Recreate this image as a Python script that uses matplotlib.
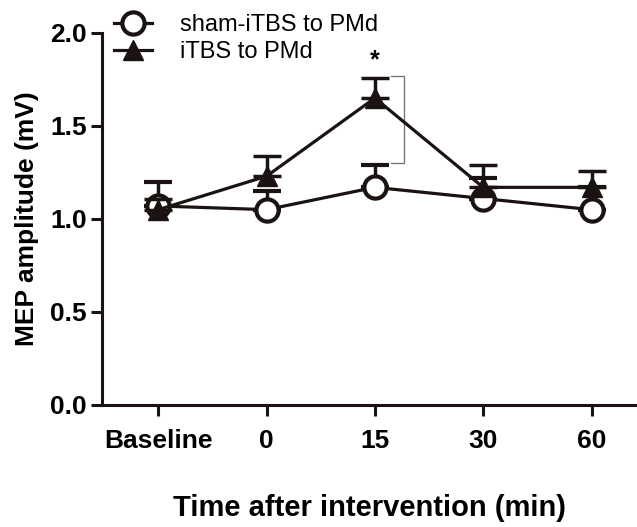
import matplotlib.pyplot as plt
from matplotlib.lines import Line2D
import numpy as np

plt.rcParams['font.family'] = ['Liberation Sans', 'DejaVu Sans']

timepoints = ["Baseline", "0", "15", "30", "60"]
sham_mean = [1.07, 1.05, 1.17, 1.11, 1.05]
sham_err = [0.13, 0.10, 0.12, 0.11, 0.12]
itbs_mean = [1.05, 1.23, 1.65, 1.17, 1.17]
itbs_err = [0.06, 0.11, 0.11, 0.12, 0.09]

x = np.arange(len(timepoints))
ink = '#1a1311'

fig = plt.figure(figsize=(6.37, 5.27), dpi=100)
ax = fig.add_axes([0.160, 0.2315, 0.84, 0.706])

ax.errorbar(x, sham_mean, yerr=[np.zeros(len(x)), sham_err], color=ink,
            marker='o', markersize=16, markerfacecolor='white', markeredgewidth=3,
            linewidth=2.3, capsize=10, capthick=2.5, elinewidth=2.5, zorder=3)
ax.errorbar(x, itbs_mean, yerr=[np.zeros(len(x)), itbs_err], color=ink,
            marker='^', markersize=15, markerfacecolor=ink,
            linewidth=2.3, capsize=10, capthick=2.5, elinewidth=2.5, zorder=4)

# significance bracket
ax.plot([2.15, 2.27, 2.27, 2.15], [1.77, 1.77, 1.30, 1.30], color='#777777', linewidth=1)
ax.text(2, 1.79, "*", ha='center', va='bottom', fontsize=18, fontweight='bold')

ax.set_xlim(-0.52, 4.42)
ax.set_ylim(0, 2.0)
ax.set_yticks([0.0, 0.5, 1.0, 1.5, 2.0])
ax.set_yticklabels(["0.0", "0.5", "1.0", "1.5", "2.0"])
ax.set_xticks(x)
ax.set_xticklabels(timepoints)
ax.spines['top'].set_visible(False)
ax.spines['right'].set_visible(False)
for s in ['left', 'bottom']:
    ax.spines[s].set_linewidth(2.2)
    ax.spines[s].set_color(ink)
ax.tick_params(width=2.2, length=8, color=ink, labelsize=19)
for lab in ax.get_xticklabels() + ax.get_yticklabels():
    lab.set_fontweight('bold')
ax.tick_params(axis='x', pad=9)
ax.tick_params(axis='y', pad=3)

ax.set_xlabel("Time after intervention (min)", fontsize=21, fontweight='bold', labelpad=30)
ax.set_ylabel("MEP amplitude (mV)", fontsize=19, fontweight='bold', labelpad=8)

handles = [
    Line2D([], [], color=ink, marker='o', markersize=16, markerfacecolor='white',
           markeredgewidth=3, linewidth=2.3),
    Line2D([], [], color=ink, marker='^', markersize=15, markerfacecolor=ink, linewidth=2.3),
]
ax.legend(handles, ["sham-iTBS to PMd", "iTBS to PMd"], loc='upper left',
          bbox_to_anchor=(0.005, 1.075), frameon=False, fontsize=17,
          handlelength=1.6, handletextpad=1.2, labelspacing=0.2, borderaxespad=0)

fig.savefig("out.png", dpi=100)
